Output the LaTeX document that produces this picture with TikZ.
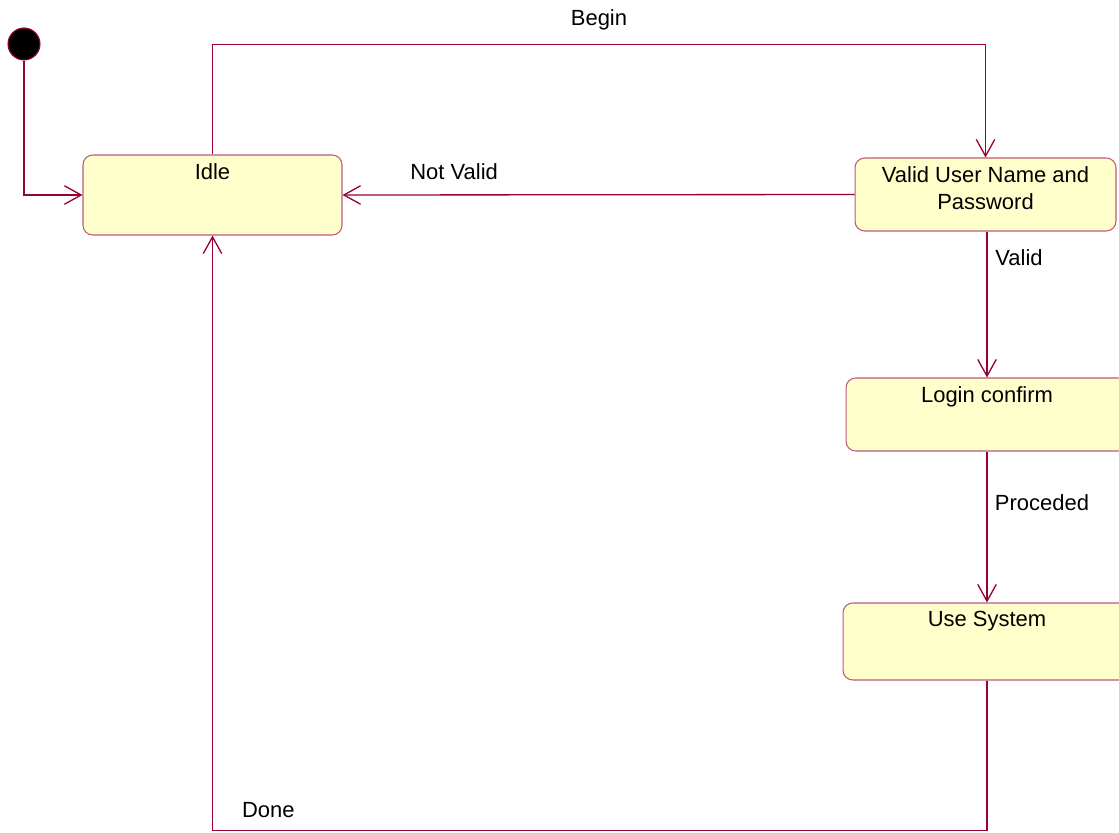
\documentclass[tikz,border=0pt]{standalone}
\usepackage{fontspec}
\setmainfont{Liberation Sans}
\usetikzlibrary{arrows.meta}
\definecolor{transcol}{HTML}{990033}
\definecolor{stateline}{HTML}{C0587A}
\definecolor{statefill}{HTML}{FFFFCC}
\begin{document}
\begin{tikzpicture}[x=0.02cm,y=-0.02cm,
    font=\fontsize{12.5}{15.3}\selectfont,
    state/.style={draw=stateline,fill=statefill,rounded corners=5.5pt,line width=0.6pt,inner sep=0pt},
    statename/.style={anchor=north,inner sep=5pt,align=center},
    transline/.style={draw=transcol,line width=0.75pt,-{Straight Barb[length=9.5pt,width=10.5pt]}}]
      \clip (0,0) rectangle (1119,832);
      % start point
      \node [circle,fill=black,draw=transcol,line width=0.6pt,minimum size=0.64cm,inner sep=0pt] (init) at (24,44) {};
      % states
      \node [state,minimum width=5.18cm,minimum height=1.6cm,label={[statename]north:Idle}] (idle) at (212.5,195) {};
      \node [state,minimum width=5.22cm,minimum height=1.46cm,label={[statename]north:Valid User Name and\\Password}] (valid) at (985.5,194.5) {};
      \node [state,minimum width=5.64cm,minimum height=1.46cm,label={[statename]north:Login confirm}] (login) at (987,414.5) {};
      \node [state,minimum width=5.76cm,minimum height=1.54cm,label={[statename]north:Use System}] (usesys) at (987,641.5) {};
      % transitions
      \draw [transline] (init.south) |- (idle.west);
      \draw [transline] (idle.north) -- ++(0,-110) -| node (lbegin) [pos=0.25,yshift=0.5cm] {Begin} (valid.north);
      \draw [transline] (valid.west) -- node (lnotvalid) [pos=0.782,yshift=0.46cm] {Not Valid} (idle.east);
      \draw [transline] (valid.south -| login.north) -- node (lvalid) [pos=0.18,xshift=0.64cm] {Valid} (login.north);
      \draw [transline] (login.south) -- node (lproc) [pos=0.34,xshift=1.1cm] {Proceded} (usesys.north);
      \draw [transline] (usesys.south) -- ++(0,150) coordinate (dn) -- node (ldone) [pos=0.928,yshift=0.4cm] {Done} (dn -| idle.south) -- (idle.south);
    \end{tikzpicture}
\end{document}
